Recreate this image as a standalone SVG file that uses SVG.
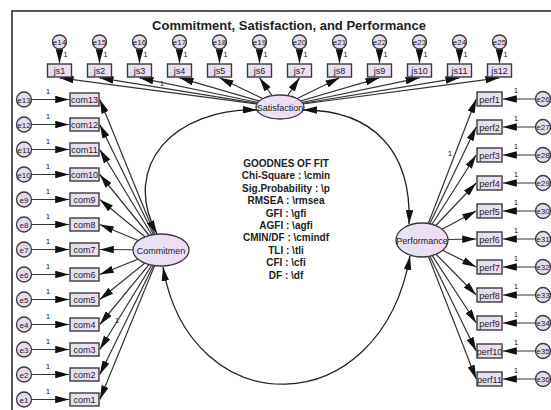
<svg xmlns="http://www.w3.org/2000/svg" width="551" height="410" viewBox="0 0 551 410">
<defs>
<style>
.t{font-family:"Liberation Sans",Arial,sans-serif;fill:#222}
.box{stroke:#3a3a3a;stroke-width:1.4;fill:url(#gb)}
.err{stroke:#3a3a3a;stroke-width:1.3;fill:#e6dcee}
.lat{stroke:#3a3a3a;stroke-width:1.3;fill:url(#gl)}
.bl{font-size:9px;text-anchor:middle}
.el{font-size:8px;text-anchor:middle}
.one{font-size:8px;text-anchor:middle}
.ln{stroke:#333;stroke-width:1.2;fill:none;marker-end:url(#ah)}
.cv{stroke:#222;stroke-width:1.3;fill:none;marker-end:url(#ah);marker-start:url(#ah)}
.fit{font-size:10px;font-weight:bold;text-anchor:middle}
</style>
<linearGradient id="gb" x1="0" y1="0" x2="1" y2="0">
<stop offset="0" stop-color="#dde1ee"/><stop offset="1" stop-color="#f4dcf4"/>
</linearGradient>
<linearGradient id="gl" x1="0" y1="0" x2="1" y2="0">
<stop offset="0" stop-color="#e4e4f4"/><stop offset="1" stop-color="#f3daf3"/>
</linearGradient>
<marker id="ah" viewBox="0 0 14 7.5" refX="14" refY="3.75" markerWidth="14" markerHeight="7.5" markerUnits="userSpaceOnUse" orient="auto-start-reverse">
<path d="M0,0 L14,3.75 L0,7.5 z" fill="#111"/>
</marker>
</defs>
<rect x="12" y="11" width="580" height="440" fill="#fff" stroke="#555" stroke-width="2"/>
<text class="t" x="289" y="30" font-size="13" font-weight="bold" text-anchor="middle" fill="#111">Commitment, Satisfaction, and Performance</text>

<g id="connectors">
<!-- Satisfaction to js -->
<line class="ln" x1="280" y1="107" x2="59.5" y2="77.8"/>
<line class="ln" x1="280" y1="107" x2="99.5" y2="77.8"/>
<line class="ln" x1="280" y1="107" x2="139.5" y2="77.8"/>
<line class="ln" x1="280" y1="107" x2="179.5" y2="77.8"/>
<line class="ln" x1="280" y1="107" x2="219.5" y2="77.8"/>
<line class="ln" x1="280" y1="107" x2="259.5" y2="77.8"/>
<line class="ln" x1="280" y1="107" x2="299.5" y2="77.8"/>
<line class="ln" x1="280" y1="107" x2="339.5" y2="77.8"/>
<line class="ln" x1="280" y1="107" x2="379.5" y2="77.8"/>
<line class="ln" x1="280" y1="107" x2="419.5" y2="77.8"/>
<line class="ln" x1="280" y1="107" x2="459.5" y2="77.8"/>
<line class="ln" x1="280" y1="107" x2="499.5" y2="77.8"/>
<!-- errors to js -->
<line class="ln" x1="59.5" y1="48" x2="59.5" y2="63.2"/>
<line class="ln" x1="99.5" y1="48" x2="99.5" y2="63.2"/>
<line class="ln" x1="139.5" y1="48" x2="139.5" y2="63.2"/>
<line class="ln" x1="179.5" y1="48" x2="179.5" y2="63.2"/>
<line class="ln" x1="219.5" y1="48" x2="219.5" y2="63.2"/>
<line class="ln" x1="259.5" y1="48" x2="259.5" y2="63.2"/>
<line class="ln" x1="299.5" y1="48" x2="299.5" y2="63.2"/>
<line class="ln" x1="339.5" y1="48" x2="339.5" y2="63.2"/>
<line class="ln" x1="379.5" y1="48" x2="379.5" y2="63.2"/>
<line class="ln" x1="419.5" y1="48" x2="419.5" y2="63.2"/>
<line class="ln" x1="459.5" y1="48" x2="459.5" y2="63.2"/>
<line class="ln" x1="499.5" y1="48" x2="499.5" y2="63.2"/>
<!-- Commitmen to com -->
<line class="ln" x1="161" y1="250" x2="99.8" y2="99.5"/>
<line class="ln" x1="161" y1="250" x2="99.8" y2="124.5"/>
<line class="ln" x1="161" y1="250" x2="99.8" y2="149.5"/>
<line class="ln" x1="161" y1="250" x2="99.8" y2="174.5"/>
<line class="ln" x1="161" y1="250" x2="99.8" y2="199.5"/>
<line class="ln" x1="161" y1="250" x2="99.8" y2="224.5"/>
<line class="ln" x1="161" y1="250" x2="99.8" y2="249.5"/>
<line class="ln" x1="161" y1="250" x2="99.8" y2="274.5"/>
<line class="ln" x1="161" y1="250" x2="99.8" y2="299.5"/>
<line class="ln" x1="161" y1="250" x2="99.8" y2="324.5"/>
<line class="ln" x1="161" y1="250" x2="99.8" y2="349.5"/>
<line class="ln" x1="161" y1="250" x2="99.8" y2="374.5"/>
<line class="ln" x1="161" y1="250" x2="99.8" y2="399.5"/>
<!-- errors to com -->
<line class="ln" x1="31.5" y1="99.5" x2="69.2" y2="99.5"/>
<line class="ln" x1="31.5" y1="124.5" x2="69.2" y2="124.5"/>
<line class="ln" x1="31.5" y1="149.5" x2="69.2" y2="149.5"/>
<line class="ln" x1="31.5" y1="174.5" x2="69.2" y2="174.5"/>
<line class="ln" x1="31.5" y1="199.5" x2="69.2" y2="199.5"/>
<line class="ln" x1="31.5" y1="224.5" x2="69.2" y2="224.5"/>
<line class="ln" x1="31.5" y1="249.5" x2="69.2" y2="249.5"/>
<line class="ln" x1="31.5" y1="274.5" x2="69.2" y2="274.5"/>
<line class="ln" x1="31.5" y1="299.5" x2="69.2" y2="299.5"/>
<line class="ln" x1="31.5" y1="324.5" x2="69.2" y2="324.5"/>
<line class="ln" x1="31.5" y1="349.5" x2="69.2" y2="349.5"/>
<line class="ln" x1="31.5" y1="374.5" x2="69.2" y2="374.5"/>
<line class="ln" x1="31.5" y1="399.5" x2="69.2" y2="399.5"/>
<!-- Performance to perf -->
<line class="ln" x1="422" y1="240" x2="476.2" y2="99"/>
<line class="ln" x1="422" y1="240" x2="476.2" y2="127"/>
<line class="ln" x1="422" y1="240" x2="476.2" y2="155"/>
<line class="ln" x1="422" y1="240" x2="476.2" y2="183"/>
<line class="ln" x1="422" y1="240" x2="476.2" y2="211"/>
<line class="ln" x1="422" y1="240" x2="476.2" y2="239"/>
<line class="ln" x1="422" y1="240" x2="476.2" y2="267"/>
<line class="ln" x1="422" y1="240" x2="476.2" y2="295"/>
<line class="ln" x1="422" y1="240" x2="476.2" y2="323"/>
<line class="ln" x1="422" y1="240" x2="476.2" y2="351"/>
<line class="ln" x1="422" y1="240" x2="476.2" y2="379"/>
<!-- errors to perf -->
<line class="ln" x1="535.5" y1="99" x2="502.8" y2="99"/>
<line class="ln" x1="535.5" y1="127" x2="502.8" y2="127"/>
<line class="ln" x1="535.5" y1="155" x2="502.8" y2="155"/>
<line class="ln" x1="535.5" y1="183" x2="502.8" y2="183"/>
<line class="ln" x1="535.5" y1="211" x2="502.8" y2="211"/>
<line class="ln" x1="535.5" y1="239" x2="502.8" y2="239"/>
<line class="ln" x1="535.5" y1="267" x2="502.8" y2="267"/>
<line class="ln" x1="535.5" y1="295" x2="502.8" y2="295"/>
<line class="ln" x1="535.5" y1="323" x2="502.8" y2="323"/>
<line class="ln" x1="535.5" y1="351" x2="502.8" y2="351"/>
<line class="ln" x1="535.5" y1="379" x2="502.8" y2="379"/>
<!-- covariances -->
<path class="cv" d="M257,110 C175,108 120,165 157,234"/>
<path class="cv" d="M303,110 C372,110 412,150 409,224"/>
<path class="cv" d="M163,267 C190,425 380,425 410,256"/>
<!-- fixed parameter labels -->
<g class="t one">
<text x="162" y="86">1</text>
<text x="117" y="323">1</text>
<text x="450" y="156">1</text>
<text x="65.5" y="57">1</text><text x="105.5" y="57">1</text><text x="145.5" y="57">1</text><text x="185.5" y="57">1</text><text x="225.5" y="57">1</text><text x="265.5" y="57">1</text><text x="305.5" y="57">1</text><text x="345.5" y="57">1</text><text x="385.5" y="57">1</text><text x="425.5" y="57">1</text><text x="465.5" y="57">1</text><text x="505.5" y="57">1</text>
<text x="48" y="93.5">1</text><text x="48" y="118.5">1</text><text x="48" y="143.5">1</text><text x="48" y="168.5">1</text><text x="48" y="193.5">1</text><text x="48" y="218.5">1</text><text x="48" y="243.5">1</text><text x="48" y="268.5">1</text><text x="48" y="293.5">1</text><text x="48" y="318.5">1</text><text x="48" y="343.5">1</text><text x="48" y="368.5">1</text><text x="48" y="393.5">1</text>
<text x="516" y="93">1</text><text x="516" y="121">1</text><text x="516" y="149">1</text><text x="516" y="177">1</text><text x="516" y="205">1</text><text x="516" y="233">1</text><text x="516" y="261">1</text><text x="516" y="289">1</text><text x="516" y="317">1</text><text x="516" y="345">1</text><text x="516" y="373">1</text>
</g>
</g>

<!-- latent variables -->
<g id="node-Satisfaction"><ellipse class="lat" cx="280" cy="107" rx="24" ry="12"/><text class="t bl" x="280" y="110.5">Satisfaction</text></g>
<g id="node-Commitmen"><ellipse class="lat" cx="161" cy="250" rx="28" ry="16"/><text class="t bl" x="161" y="253.5">Commitmen</text></g>
<g id="node-Performance"><ellipse class="lat" cx="422" cy="240" rx="26" ry="17"/><text class="t bl" x="422" y="243.5">Performance</text></g>

<!-- js indicators -->
<g id="node-js1"><rect class="box" x="47.5" y="64" width="24" height="13"/><text class="t bl" x="59.5" y="74">js1</text></g>
<g id="node-js2"><rect class="box" x="87.5" y="64" width="24" height="13"/><text class="t bl" x="99.5" y="74">js2</text></g>
<g id="node-js3"><rect class="box" x="127.5" y="64" width="24" height="13"/><text class="t bl" x="139.5" y="74">js3</text></g>
<g id="node-js4"><rect class="box" x="167.5" y="64" width="24" height="13"/><text class="t bl" x="179.5" y="74">js4</text></g>
<g id="node-js5"><rect class="box" x="207.5" y="64" width="24" height="13"/><text class="t bl" x="219.5" y="74">js5</text></g>
<g id="node-js6"><rect class="box" x="247.5" y="64" width="24" height="13"/><text class="t bl" x="259.5" y="74">js6</text></g>
<g id="node-js7"><rect class="box" x="287.5" y="64" width="24" height="13"/><text class="t bl" x="299.5" y="74">js7</text></g>
<g id="node-js8"><rect class="box" x="327.5" y="64" width="24" height="13"/><text class="t bl" x="339.5" y="74">js8</text></g>
<g id="node-js9"><rect class="box" x="367.5" y="64" width="24" height="13"/><text class="t bl" x="379.5" y="74">js9</text></g>
<g id="node-js10"><rect class="box" x="407.5" y="64" width="24" height="13"/><text class="t bl" x="419.5" y="74">js10</text></g>
<g id="node-js11"><rect class="box" x="447.5" y="64" width="24" height="13"/><text class="t bl" x="459.5" y="74">js11</text></g>
<g id="node-js12"><rect class="box" x="487.5" y="64" width="24" height="13"/><text class="t bl" x="499.5" y="74">js12</text></g>

<!-- top errors -->
<g id="node-e14"><circle class="err" cx="59.5" cy="42" r="7"/><text class="t el" x="59.5" y="45">e14</text></g>
<g id="node-e15"><circle class="err" cx="99.5" cy="42" r="7"/><text class="t el" x="99.5" y="45">e15</text></g>
<g id="node-e16"><circle class="err" cx="139.5" cy="42" r="7"/><text class="t el" x="139.5" y="45">e16</text></g>
<g id="node-e17"><circle class="err" cx="179.5" cy="42" r="7"/><text class="t el" x="179.5" y="45">e17</text></g>
<g id="node-e18"><circle class="err" cx="219.5" cy="42" r="7"/><text class="t el" x="219.5" y="45">e18</text></g>
<g id="node-e19"><circle class="err" cx="259.5" cy="42" r="7"/><text class="t el" x="259.5" y="45">e19</text></g>
<g id="node-e20"><circle class="err" cx="299.5" cy="42" r="7"/><text class="t el" x="299.5" y="45">e20</text></g>
<g id="node-e21"><circle class="err" cx="339.5" cy="42" r="7"/><text class="t el" x="339.5" y="45">e21</text></g>
<g id="node-e22"><circle class="err" cx="379.5" cy="42" r="7"/><text class="t el" x="379.5" y="45">e22</text></g>
<g id="node-e23"><circle class="err" cx="419.5" cy="42" r="7"/><text class="t el" x="419.5" y="45">e23</text></g>
<g id="node-e24"><circle class="err" cx="459.5" cy="42" r="7"/><text class="t el" x="459.5" y="45">e24</text></g>
<g id="node-e25"><circle class="err" cx="499.5" cy="42" r="7"/><text class="t el" x="499.5" y="45">e25</text></g>

<!-- com indicators -->
<g id="node-com13"><rect class="box" x="70" y="93" width="29" height="13"/><text class="t bl" x="84.5" y="103">com13</text></g>
<g id="node-com12"><rect class="box" x="70" y="118" width="29" height="13"/><text class="t bl" x="84.5" y="128">com12</text></g>
<g id="node-com11"><rect class="box" x="70" y="143" width="29" height="13"/><text class="t bl" x="84.5" y="153">com11</text></g>
<g id="node-com10"><rect class="box" x="70" y="168" width="29" height="13"/><text class="t bl" x="84.5" y="178">com10</text></g>
<g id="node-com9"><rect class="box" x="70" y="193" width="29" height="13"/><text class="t bl" x="84.5" y="203">com9</text></g>
<g id="node-com8"><rect class="box" x="70" y="218" width="29" height="13"/><text class="t bl" x="84.5" y="228">com8</text></g>
<g id="node-com7"><rect class="box" x="70" y="243" width="29" height="13"/><text class="t bl" x="84.5" y="253">com7</text></g>
<g id="node-com6"><rect class="box" x="70" y="268" width="29" height="13"/><text class="t bl" x="84.5" y="278">com6</text></g>
<g id="node-com5"><rect class="box" x="70" y="293" width="29" height="13"/><text class="t bl" x="84.5" y="303">com5</text></g>
<g id="node-com4"><rect class="box" x="70" y="318" width="29" height="13"/><text class="t bl" x="84.5" y="328">com4</text></g>
<g id="node-com3"><rect class="box" x="70" y="343" width="29" height="13"/><text class="t bl" x="84.5" y="353">com3</text></g>
<g id="node-com2"><rect class="box" x="70" y="368" width="29" height="13"/><text class="t bl" x="84.5" y="378">com2</text></g>
<g id="node-com1"><rect class="box" x="70" y="393" width="29" height="13"/><text class="t bl" x="84.5" y="403">com1</text></g>

<!-- left errors -->
<g id="node-e13"><circle class="err" cx="24" cy="99.5" r="7.5"/><text class="t el" x="24" y="102.5">e13</text></g>
<g id="node-e12"><circle class="err" cx="24" cy="124.5" r="7.5"/><text class="t el" x="24" y="127.5">e12</text></g>
<g id="node-e11"><circle class="err" cx="24" cy="149.5" r="7.5"/><text class="t el" x="24" y="152.5">e11</text></g>
<g id="node-e10"><circle class="err" cx="24" cy="174.5" r="7.5"/><text class="t el" x="24" y="177.5">e10</text></g>
<g id="node-e9"><circle class="err" cx="24" cy="199.5" r="7.5"/><text class="t el" x="24" y="202.5">e9</text></g>
<g id="node-e8"><circle class="err" cx="24" cy="224.5" r="7.5"/><text class="t el" x="24" y="227.5">e8</text></g>
<g id="node-e7"><circle class="err" cx="24" cy="249.5" r="7.5"/><text class="t el" x="24" y="252.5">e7</text></g>
<g id="node-e6"><circle class="err" cx="24" cy="274.5" r="7.5"/><text class="t el" x="24" y="277.5">e6</text></g>
<g id="node-e5"><circle class="err" cx="24" cy="299.5" r="7.5"/><text class="t el" x="24" y="302.5">e5</text></g>
<g id="node-e4"><circle class="err" cx="24" cy="324.5" r="7.5"/><text class="t el" x="24" y="327.5">e4</text></g>
<g id="node-e3"><circle class="err" cx="24" cy="349.5" r="7.5"/><text class="t el" x="24" y="352.5">e3</text></g>
<g id="node-e2"><circle class="err" cx="24" cy="374.5" r="7.5"/><text class="t el" x="24" y="377.5">e2</text></g>
<g id="node-e1"><circle class="err" cx="24" cy="399.5" r="7.5"/><text class="t el" x="24" y="402.5">e1</text></g>

<!-- perf indicators -->
<g id="node-perf1"><rect class="box" x="477" y="92" width="25" height="14"/><text class="t bl" x="489.5" y="102.5">perf1</text></g>
<g id="node-perf2"><rect class="box" x="477" y="120" width="25" height="14"/><text class="t bl" x="489.5" y="130.5">perf2</text></g>
<g id="node-perf3"><rect class="box" x="477" y="148" width="25" height="14"/><text class="t bl" x="489.5" y="158.5">perf3</text></g>
<g id="node-perf4"><rect class="box" x="477" y="176" width="25" height="14"/><text class="t bl" x="489.5" y="186.5">perf4</text></g>
<g id="node-perf5"><rect class="box" x="477" y="204" width="25" height="14"/><text class="t bl" x="489.5" y="214.5">perf5</text></g>
<g id="node-perf6"><rect class="box" x="477" y="232" width="25" height="14"/><text class="t bl" x="489.5" y="242.5">perf6</text></g>
<g id="node-perf7"><rect class="box" x="477" y="260" width="25" height="14"/><text class="t bl" x="489.5" y="270.5">perf7</text></g>
<g id="node-perf8"><rect class="box" x="477" y="288" width="25" height="14"/><text class="t bl" x="489.5" y="298.5">perf8</text></g>
<g id="node-perf9"><rect class="box" x="477" y="316" width="25" height="14"/><text class="t bl" x="489.5" y="326.5">perf9</text></g>
<g id="node-perf10"><rect class="box" x="477" y="344" width="25" height="14"/><text class="t bl" x="489.5" y="354.5">perf10</text></g>
<g id="node-perf11"><rect class="box" x="477" y="372" width="25" height="14"/><text class="t bl" x="489.5" y="382.5">perf11</text></g>

<!-- right errors -->
<g id="node-e26"><circle class="err" cx="543" cy="99" r="7.5"/><text class="t el" x="543" y="102">e26</text></g>
<g id="node-e27"><circle class="err" cx="543" cy="127" r="7.5"/><text class="t el" x="543" y="130">e27</text></g>
<g id="node-e28"><circle class="err" cx="543" cy="155" r="7.5"/><text class="t el" x="543" y="158">e28</text></g>
<g id="node-e29"><circle class="err" cx="543" cy="183" r="7.5"/><text class="t el" x="543" y="186">e29</text></g>
<g id="node-e30"><circle class="err" cx="543" cy="211" r="7.5"/><text class="t el" x="543" y="214">e30</text></g>
<g id="node-e31"><circle class="err" cx="543" cy="239" r="7.5"/><text class="t el" x="543" y="242">e31</text></g>
<g id="node-e32"><circle class="err" cx="543" cy="267" r="7.5"/><text class="t el" x="543" y="270">e32</text></g>
<g id="node-e33"><circle class="err" cx="543" cy="295" r="7.5"/><text class="t el" x="543" y="298">e33</text></g>
<g id="node-e34"><circle class="err" cx="543" cy="323" r="7.5"/><text class="t el" x="543" y="326">e34</text></g>
<g id="node-e35"><circle class="err" cx="543" cy="351" r="7.5"/><text class="t el" x="543" y="354">e35</text></g>
<g id="node-e36"><circle class="err" cx="543" cy="379" r="7.5"/><text class="t el" x="543" y="382">e36</text></g>

<!-- goodness of fit text -->
<g id="fit" class="t fit">
<text x="286" y="167">GOODNES OF FIT</text>
<text x="286" y="179.4">Chi-Square : \cmin</text>
<text x="286" y="191.8">Sig.Probability : \p</text>
<text x="286" y="204.2">RMSEA : \rmsea</text>
<text x="286" y="216.6">GFI : \gfi</text>
<text x="286" y="229">AGFI : \agfi</text>
<text x="286" y="241.4">CMIN/DF : \cmindf</text>
<text x="286" y="253.8">TLI : \tli</text>
<text x="286" y="266.2">CFI : \cfi</text>
<text x="286" y="278.6">DF : \df</text>
</g>
</svg>
